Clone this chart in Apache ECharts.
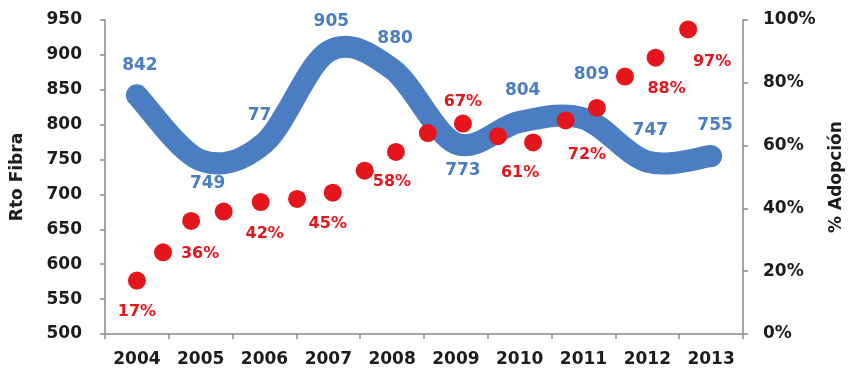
<!DOCTYPE html>
<html>
<head>
<meta charset="utf-8">
<script src="https://cdn.jsdelivr.net/npm/echarts@6/dist/echarts.min.js"></script>
<style>
  html, body { margin: 0; padding: 0; background: #ffffff; }
  #chart { width: 849px; height: 371px; }
</style>
</head>
<body>
<div id="chart"></div>
<script>
// Años del eje horizontal
const anios = ['2004', '2005', '2006', '2007', '2008', '2009', '2010', '2011', '2012', '2013'];

// Rendimiento de fibra por año (eje izquierdo)
const rtoFibra = [842, 749, 774, 905, 880, 773, 804, 809, 747, 755];

// Adopción (%): periodos en años decimales y valores (eje derecho)
const adopcionPeriodo = [2004.0, 2004.41, 2004.85, 2005.36, 2005.94, 2006.51, 2007.07, 2007.57, 2008.06,
                         2008.56, 2009.11, 2009.66, 2010.21, 2010.72, 2011.21, 2011.65, 2012.13, 2012.64];
const adopcionValor = [17, 26, 36, 39, 42, 43, 45, 52, 58, 64, 67, 63, 61, 68, 72, 82, 88, 97];

// Marcas de los ejes
const rtoTicks = { min: 500, max: 950, step: 50 };
const adopcionTicks = { min: 0, max: 100, step: 20 };

// ---- estilo ----
const AZUL = '#4a7dc2';
const ROJO = '#e4161c';
const TEXTO = '#1c1c1c';
const EJE = '#8a8a8a';
const FUENTE = '"DejaVu Sans", Verdana, sans-serif';

// desplazamiento de cada etiqueta azul respecto a su punto
const offsetRto = [[3, -30], [7, 23], [1, -27], [3, -30], [3, -30], [7, 27], [3, -31], [8, -44], [3, -31], [4, -30]];
// puntos rojos rotulados y su desplazamiento
const offsetAdopcion = {
  0: [0, 31], 2: [9, 33], 4: [4, 32], 6: [-5, 31], 8: [-4, 30],
  10: [0, -22], 12: [-13, 30], 14: [-10, 47], 16: [11, 31], 17: [24, 32]
};

const ejeBase = {
  axisLine: { show: true, lineStyle: { color: EJE, width: 1.5 } },
  axisTick: { show: true, length: 5, lineStyle: { color: EJE, width: 1.5 } },
  splitLine: { show: false },
  axisLabel: { color: TEXTO, fontFamily: FUENTE, fontWeight: 'bold', fontSize: 17 },
  nameTextStyle: { color: TEXTO, fontFamily: FUENTE, fontWeight: 'bold', fontSize: 17 }
};

// Curva suave (Catmull-Rom) a través de los puntos de Rto Fibra,
// con las etiquetas dibujadas por debajo del trazo.
function dibujarRto(params, api) {
  if (params.dataIndex !== 0) return null;
  const n = rtoFibra.length;
  const pts = rtoFibra.map((v, i) => api.coord([i, v]));
  let d = 'M' + pts[0][0] + ' ' + pts[0][1];
  for (let i = 0; i < n - 1; i++) {
    const pa = pts[Math.max(i - 1, 0)];
    const p0 = pts[i];
    const p1 = pts[i + 1];
    const pb = pts[Math.min(i + 2, n - 1)];
    const c1 = [p0[0] + (p1[0] - pa[0]) / 6, p0[1] + (p1[1] - pa[1]) / 6];
    const c2 = [p1[0] - (pb[0] - p0[0]) / 6, p1[1] - (pb[1] - p0[1]) / 6];
    d += ' C' + c1[0] + ' ' + c1[1] + ' ' + c2[0] + ' ' + c2[1] + ' ' + p1[0] + ' ' + p1[1];
  }
  const textos = rtoFibra.map((v, i) => ({
    type: 'text',
    z2: 1,
    x: pts[i][0] + offsetRto[i][0],
    y: pts[i][1] + offsetRto[i][1],
    style: {
      text: String(v),
      fill: AZUL,
      fontFamily: FUENTE,
      fontWeight: 'bold',
      fontSize: 17,
      align: 'center',
      verticalAlign: 'middle'
    }
  }));
  const trazo = {
    type: 'path',
    z2: 10,
    shape: { pathData: d },
    style: {
      fill: null,
      stroke: AZUL,
      lineWidth: 22,
      lineCap: 'round',
      lineJoin: 'round'
    }
  };
  return { type: 'group', children: textos.concat([trazo]) };
}

const chart = echarts.init(document.getElementById('chart'), null, { renderer: 'canvas' });

chart.setOption({
  animation: false,
  backgroundColor: '#ffffff',
  grid: { left: 105, right: 106, top: 20, bottom: 37, containLabel: false, outerBoundsMode: 'none' },
  xAxis: [
    Object.assign({}, ejeBase, {
      type: 'category',
      data: anios,
      boundaryGap: true,
      axisTick: { show: true, length: 5, interval: 0, lineStyle: { color: EJE, width: 1.5 } },
      axisLabel: Object.assign({}, ejeBase.axisLabel, { margin: 17, interval: 0 })
    }),
    {
      type: 'value',
      min: 2003.5,
      max: 2013.5,
      show: false
    }
  ],
  yAxis: [
    Object.assign({}, ejeBase, {
      type: 'value',
      position: 'left',
      min: rtoTicks.min,
      max: rtoTicks.max,
      interval: rtoTicks.step,
      name: 'Rto Fibra',
      nameLocation: 'middle',
      nameGap: 79,
      axisLabel: Object.assign({}, ejeBase.axisLabel, { margin: 23 })
    }),
    Object.assign({}, ejeBase, {
      type: 'value',
      position: 'right',
      min: adopcionTicks.min,
      max: adopcionTicks.max,
      interval: adopcionTicks.step,
      name: '% Adopción',
      nameLocation: 'middle',
      nameRotate: 90,
      nameGap: 85,
      axisLabel: Object.assign({}, ejeBase.axisLabel, { margin: 20, formatter: '{value}%' })
    })
  ],
  series: [
    {
      name: 'Rto Fibra',
      type: 'custom',
      xAxisIndex: 0,
      yAxisIndex: 0,
      z: 2,
      silent: true,
      clip: false,
      data: rtoFibra.map((v, i) => [i, v]),
      encode: { x: 0, y: 1 },
      renderItem: dibujarRto
    },
    {
      name: '% Adopción',
      type: 'scatter',
      xAxisIndex: 1,
      yAxisIndex: 1,
      z: 3,
      symbol: 'circle',
      symbolSize: 18,
      itemStyle: { color: ROJO, opacity: 1 },
      data: adopcionPeriodo.map((p, i) => {
        const item = { value: [p, adopcionValor[i]] };
        if (offsetAdopcion[i]) {
          item.label = {
            show: true,
            position: 'inside',
            offset: offsetAdopcion[i],
            formatter: adopcionValor[i] + '%',
            color: ROJO,
            fontFamily: FUENTE,
            fontWeight: 'bold',
            fontSize: 16
          };
        }
        return item;
      })
    }
  ]
});
</script>
</body>
</html>
